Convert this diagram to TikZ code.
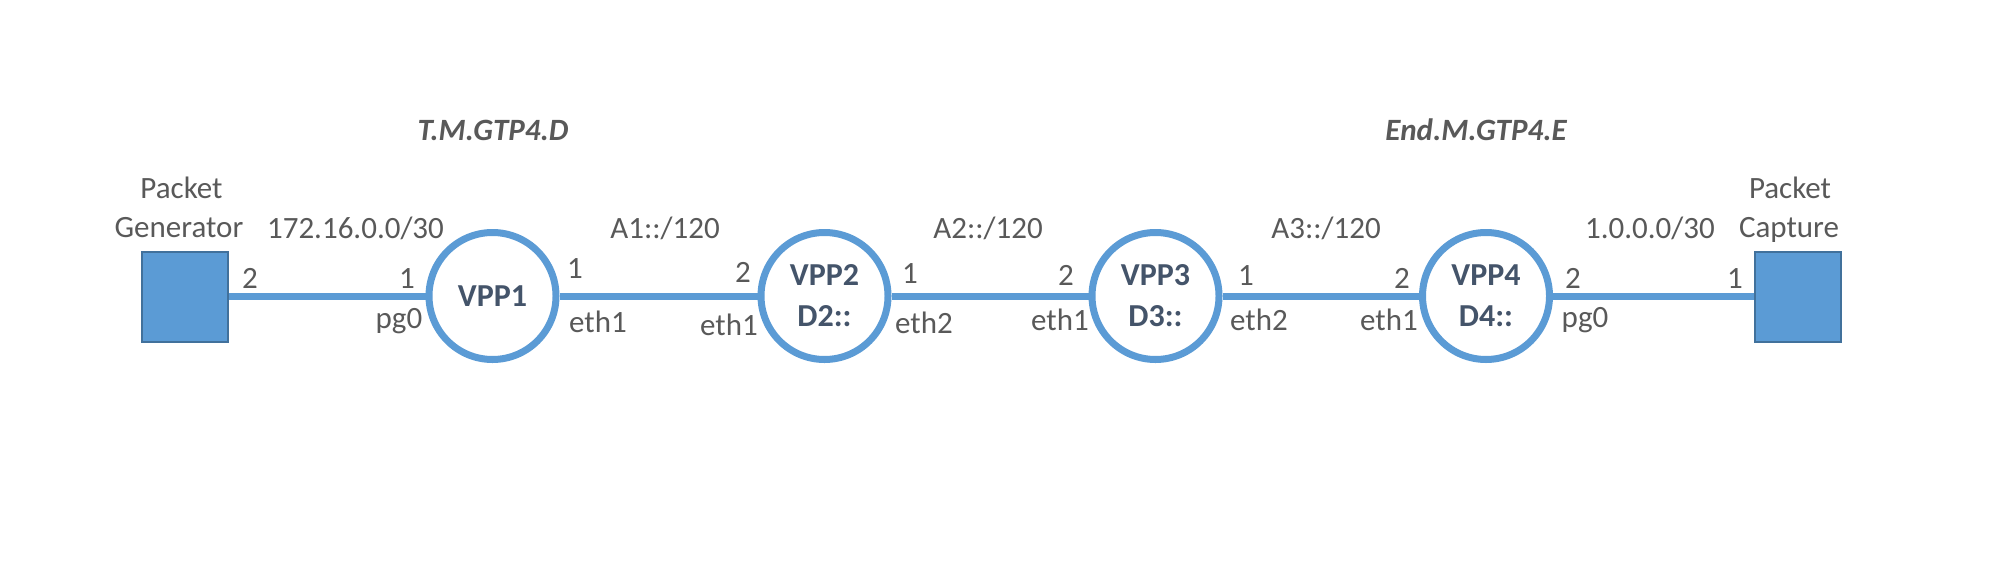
\documentclass[tikz,border=0pt]{standalone}
\usepackage{fontspec}
\setmainfont{Carlito}
\definecolor{linkblue}{HTML}{5B9BD5}
\definecolor{boxedge}{HTML}{41719C}
\definecolor{txtgray}{HTML}{595959}
\definecolor{vpptext}{HTML}{44546A}
\begin{document}
\begin{tikzpicture}[x=1pt,y=-1pt,
  link/.style={draw=linkblue,line width=7pt},
  vpp/.style={circle,draw=linkblue,line width=7pt,fill=white,minimum size=127pt,inner sep=0pt,align=center,text=vpptext,font=\fontsize{32}{41}\selectfont\bfseries},
  endbox/.style={rectangle,draw=boxedge,line width=2pt,fill=linkblue,minimum width=86pt,minimum height=90pt,inner sep=0pt},
  lbl/.style={anchor=base,inner sep=0pt,text=txtgray,font=\fontsize{31}{37}\selectfont},
  ttl/.style={anchor=base,inner sep=0pt,text=txtgray,font=\fontsize{31}{37}\selectfont\bfseries\itshape}]
\useasboundingbox (0,0) rectangle (1999,560);

% end devices
\node[endbox] (gen) at (185,297) {};
\node[endbox] (cap) at (1798,297) {};
% routers
\node[vpp] (v1) at (492.5,296) {VPP1};
\node[vpp] (v2) at (824.5,296) {VPP2\\D2::};
\node[vpp] (v3) at (1155.5,296) {VPP3\\D3::};
\node[vpp] (v4) at (1486,296) {VPP4\\D4::};

% links
\draw[link] (gen.east |- 0,296) -- (v1.west);
\draw[link] (v1.east) -- (v2.west);
\draw[link] (v2.east) -- (v3.west);
\draw[link] (v3.east) -- (v4.west);
\draw[link] (v4.east) -- (cap.west |- 0,296);

% titles
\node[ttl] (t1) at (493,140) {T.M.GTP4.D};
\node[ttl] (t2) at (1476,140) {End.M.GTP4.E};

% device names
\node[lbl] (gn1) at (181.5,198) {Packet};
\node[lbl] (gn2) at (179,237) {Generator};
\node[lbl] (cn1) at (1790,198) {Packet};
\node[lbl] (cn2) at (1789,237) {Capture};

% subnets
\node[lbl] (s1) at (355.5,238) {172.16.0.0/30};
\node[lbl] (s2) at (665,238) {A1::/120};
\node[lbl] (s3) at (988,238) {A2::/120};
\node[lbl] (s4) at (1326,238) {A3::/120};
\node[lbl] (s5) at (1650,238) {1.0.0.0/30};

% port numbers
\node[lbl] (p1) at (250,288) {2};
\node[lbl] (p2) at (407,288) {1};
\node[lbl] (p3) at (575,278) {1};
\node[lbl] (p4) at (743,282) {2};
\node[lbl] (p5) at (910,283) {1};
\node[lbl] (p6) at (1066,285) {2};
\node[lbl] (p7) at (1246,285) {1};
\node[lbl] (p8) at (1402,288) {2};
\node[lbl] (p9) at (1573,288) {2};
\node[lbl] (p10) at (1735,288) {1};

% interface names
\node[lbl] (i1) at (399,328) {pg0};
\node[lbl] (i2) at (598,332) {eth1};
\node[lbl] (i3) at (729,335) {eth1};
\node[lbl] (i4) at (924,333) {eth2};
\node[lbl] (i5) at (1060,330) {eth1};
\node[lbl] (i6) at (1259,330) {eth2};
\node[lbl] (i7) at (1389,330) {eth1};
\node[lbl] (i8) at (1585,327) {pg0};
\end{tikzpicture}
\end{document}
